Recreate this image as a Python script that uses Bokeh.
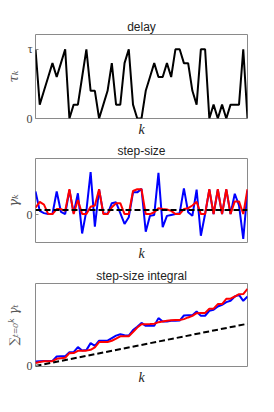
from bokeh.plotting import figure
from bokeh.layouts import column
from bokeh.models import Range1d, FixedTicker
from bokeh.embed import file_html
from bokeh.resources import INLINE

# ---------------- data ----------------
k = list(range(51))

# delay tau_k (integer levels, tau = 5)
tau_max = 5
delay = [5, 1, 2, 3, 4, 3, 4, 5, 0, 1,
         1, 3, 5, 2, 2, 0, 1, 2, 4, 1,
         1, 4, 5, 1, 0, 0, 2, 3, 4, 3,
         3, 4, 3, 5, 5, 4, 4, 2, 1, 5,
         5, 0, 1, 0, 1, 0, 1, 1, 1, 5, 0]

# step-size gamma_k (units of the constant step gamma)
step_blue = [5.1, 0.8, 0.3, 0.1, 0.1, 5.1, 0.6, 0.1, 5.4, 0.3,
             4.7, -4.2, 0.8, 9.4, -2.7, 5.5, 0.3, 0.1, 2.5, 2.7,
             0.3, -2.1, -0.6, 4.9, 4.9, 5.7, -3.8, -0.3, -0.1, 9.2,
             -2.8, -0.3, -0.1, 0.1, 0.3, 5.8, 0.5, -0.3, 5.5, -4.7,
             0.1, 5.5, 0.1, 5.5, 0.1, 5.5, 0.1, 4.6, 2.0, -5.4, 5.3]
step_red = [1.5, 2.8, 2.2, 0.1, 0.1, 1.2, 1.2, 0.8, 5.6, 0.1,
            3.2, 0.1, 0.1, 1.7, 2.0, 5.6, 0.1, 0.1, 1.6, 2.5,
            2.5, 0.1, 0.1, 5.2, 5.6, 5.6, 0.1, 0.1, 0.5, 1.4,
            1.2, 1.1, 0.8, 0.1, 0.1, 1.2, 1.4, 2.0, 2.8, 0.1,
            0.1, 5.6, 0.1, 5.6, 0.1, 5.6, 0.1, 2.9, 2.9, 0.1, 5.6]
const_x = [0, 50]
const_step = [1.0, 1.0]

# step-size integral
int_blue = [5.3, 5.6, 5.8, 5.9, 6.0, 11.3, 11.6, 11.7, 16.4, 16.5,
            22.3, 18.4, 18.8, 27.1, 23.9, 29.9, 30.0, 30.1, 33.1, 36.0,
            37.5, 36.3, 36.0, 42.5, 46.5, 51.0, 47.6, 47.6, 47.6, 56.7,
            52.7, 52.7, 53.5, 53.5, 53.8, 59.8, 60.2, 60.0, 64.6, 59.4,
            59.5, 65.4, 66.6, 70.5, 72.5, 75.6, 77.2, 82.3, 84.3, 77.2, 82.3]
int_red = [3.5, 4.8, 5.5, 5.6, 5.7, 8.5, 9.3, 9.8, 15.2, 15.3,
           18.0, 18.1, 18.2, 19.2, 22.0, 28.3, 28.4, 28.5, 29.9, 32.3,
           35.1, 35.2, 35.3, 40.2, 45.5, 49.5, 49.5, 49.6, 50.0, 51.9,
           52.7, 53.5, 54.3, 54.4, 54.5, 55.5, 57.5, 59.4, 62.6, 62.7,
           62.8, 67.8, 67.9, 73.3, 73.4, 79.6, 79.7, 82.3, 85.1, 85.2, 91.4]
const_int = [0, 50]

titles = ["delay", "step-size", "step-size integral"]
ylabels = ["\u03c4\u2096", "\u03b3\u2096", "\u2211\u209c\u208c\u2080\u1d4f \u03b3\u209c"]

BOX = "#8a8a8a"
TXT = "#222222"


def make_fig(title, ylab, height, top, bottom, yr, ticks, overrides, lab_size):
    p = figure(width=265, height=height, output_backend="svg",
               toolbar_location=None, x_range=Range1d(0, 50), y_range=Range1d(*yr),
               min_border_left=35, min_border_right=18,
               min_border_top=top, min_border_bottom=bottom)
    p.title.text = title
    p.title.align = "center"
    p.title.text_font = "Liberation Sans"
    p.title.text_font_size = "12px"
    p.title.text_font_style = "normal"
    p.title.text_color = TXT
    p.title.standoff = 2
    p.xgrid.visible = False
    p.ygrid.visible = False
    p.outline_line_color = BOX
    p.outline_line_width = 1
    p.background_fill_color = "white"
    p.border_fill_color = "white"

    p.xaxis.ticker = FixedTicker(ticks=[])
    p.xaxis.axis_label = "k"
    p.xaxis.axis_label_text_font = "Liberation Serif"
    p.xaxis.axis_label_text_font_style = "italic"
    p.xaxis.axis_label_text_font_size = "14px"
    p.xaxis.axis_label_text_color = TXT
    p.xaxis.axis_label_standoff = 3
    p.xaxis.axis_line_color = None
    p.xaxis.major_tick_line_color = None
    p.xaxis.minor_tick_line_color = None

    p.yaxis.ticker = FixedTicker(ticks=ticks)
    p.yaxis.major_label_overrides = overrides
    p.yaxis.major_label_text_font = "Liberation Serif"
    p.yaxis.major_label_text_font_size = "12px"
    p.yaxis.major_label_text_color = "#444444"
    p.yaxis.major_label_standoff = 3
    p.yaxis.major_tick_out = 0
    p.yaxis.major_tick_in = 3
    p.yaxis.major_tick_line_color = BOX
    p.yaxis.minor_tick_line_color = None
    p.yaxis.axis_line_color = None
    p.yaxis.axis_label = ylab
    p.yaxis.axis_label_text_font = "DejaVu Serif"
    p.yaxis.axis_label_text_font_style = "italic"
    p.yaxis.axis_label_text_font_size = lab_size
    p.yaxis.axis_label_text_color = "#555555"
    p.yaxis.axis_label_standoff = 3
    return p


p1 = make_fig(titles[0], ylabels[0], 139, 34, 20, (0, 6.07), [0, tau_max],
              {0: "0", tau_max: "\u03c4"}, "13px")
p1.line(k, delay, line_color="black", line_width=2)

p2 = make_fig(titles[1], ylabels[1], 125, 19, 22, (-6.2, 12.4), [0], {0: "0"}, "13px")
p2.line(k, step_blue, line_color="#0000ff", line_width=2)
p2.line(k, step_red, line_color="#ff0000", line_width=2)
p2.line(const_x, const_step, line_color="black", line_width=2, line_dash="6 3")

p3 = make_fig(titles[2], ylabels[2], 132, 19, 30, (-0.6, 97.7), [0], {0: "0"}, "12px")
p3.line(k, int_blue, line_color="#0000ff", line_width=2)
p3.line(k, int_red, line_color="#ff0000", line_width=2)
p3.line(const_x, const_int, line_color="black", line_width=2, line_dash="6 3")

layout = column(p1, p2, p3, spacing=0)
open("out.html", "w").write(file_html(layout, INLINE))
